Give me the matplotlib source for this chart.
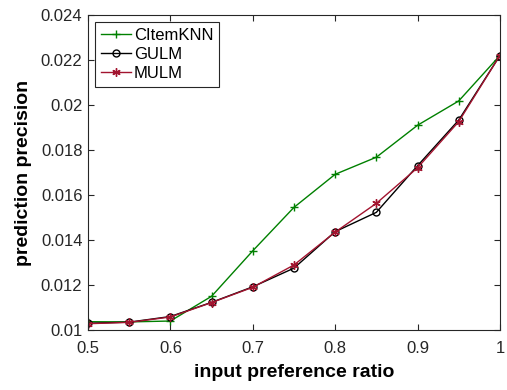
import numpy as np
import matplotlib.pyplot as plt

plt.rcParams['font.family'] = ['Liberation Sans', 'DejaVu Sans']

ratio = [0.5, 0.55, 0.6, 0.65, 0.7, 0.75, 0.8, 0.85, 0.9, 0.95, 1.0]
citemknn = [0.01037, 0.01036, 0.0104, 0.0115, 0.01352, 0.01545, 0.01692, 0.01768, 0.0191, 0.02018, 0.0222]
gulm = [0.0103, 0.01035, 0.0106, 0.01123, 0.01192, 0.01275, 0.01437, 0.01523, 0.0173, 0.01933, 0.0222]
mulm = [0.01028, 0.01034, 0.01058, 0.01122, 0.0119, 0.01289, 0.01435, 0.01563, 0.01721, 0.01926, 0.0222]

axis_col = '#262626'

fig = plt.figure(figsize=(5.07, 3.9), dpi=100)
ax = fig.add_axes([0.1736, 0.1538, 0.8124, 0.8077])

ax.plot(ratio, citemknn, color='#008000', marker='+', markersize=6, lw=1, label='CItemKNN')
ax.plot(ratio, gulm, color='black', marker='o', markersize=5, markerfacecolor='none', lw=1, label='GULM')
ax.plot(ratio, mulm, color='#A2142F', marker=(6, 2, 0), markersize=6, lw=1, label='MULM')

ax.set_xlim(0.5, 1.0)
ax.set_ylim(0.01, 0.024)
ax.set_xticks([0.5, 0.6, 0.7, 0.8, 0.9, 1.0])
ax.set_xticklabels(['0.5', '0.6', '0.7', '0.8', '0.9', '1'])
yt = [0.01, 0.012, 0.014, 0.016, 0.018, 0.02, 0.022, 0.024]
ax.set_yticks(yt)
ax.set_yticklabels(['0.01', '0.012', '0.014', '0.016', '0.018', '0.02', '0.022', '0.024'])
ax.tick_params(direction='in', top=True, right=True, labelsize=12, colors=axis_col, length=4, pad=4)
ax.tick_params(axis='x', pad=8)
for s in ax.spines.values():
    s.set_color(axis_col)

ax.set_xlabel('input preference ratio', fontsize=14, fontweight='bold', labelpad=6)
ax.set_ylabel('prediction precision', fontsize=14, fontweight='bold', labelpad=6)

leg = ax.legend(loc='upper left', fontsize=12, fancybox=False, edgecolor=axis_col,
                framealpha=1, handlelength=1.8, handletextpad=0.2, labelspacing=0.25,
                borderpad=0.35, borderaxespad=0.4)
leg.get_frame().set_linewidth(0.8)

fig.savefig('out.png', dpi=100)
